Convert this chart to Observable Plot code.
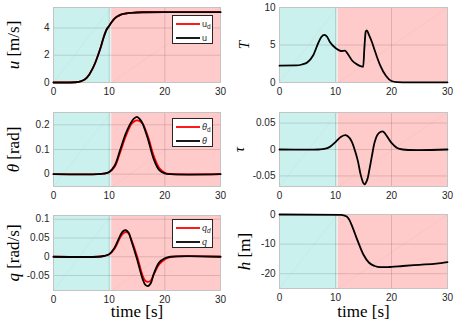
<!DOCTYPE html>
<html><head><meta charset="utf-8">
<script src="https://cdn.jsdelivr.net/npm/d3@7"></script>
<script src="https://cdn.jsdelivr.net/npm/@observablehq/plot@0.6"></script>
<style>
body{margin:0;background:#fff;}
#fig{position:relative;width:458px;height:328px;overflow:hidden;background:#fff;font-family:"Liberation Sans",Arial,sans-serif;}
.panel{position:absolute;}
.legend{position:absolute;background:#fff;border:1px solid #262626;box-sizing:border-box;}
</style></head><body><div id="fig"></div><script>
// ---------- data ----------
const phaseStart = [0, 10.45];
const phaseEnd = [10.35, 30];
const xTicks = [0, 10, 20, 30];

const uTime = [0,2,4,5,6,7,7.5,8,8.5,9,9.5,10,10.5,11,11.5,12,13,14,16,20,25,30];
const uVals = [0,0,0.02,0.1,0.35,1.0,1.45,2.0,2.6,3.3,3.85,4.15,4.45,4.7,4.85,4.96,5.06,5.11,5.15,5.16,5.16,5.16];
const udVals = [0,0,0.02,0.1,0.35,1.0,1.45,2.0,2.6,3.3,3.85,4.15,4.45,4.7,4.85,4.96,5.06,5.11,5.15,5.16,5.16,5.16];
const uTicks = [0, 2, 4];

const TTime = [0,3,4,5,6,7,7.5,8,8.5,9,10,10.5,11,11.7,12.2,13,14,14.6,14.95,15.15,15.4,15.6,16,16.5,17,17.5,18,19,20,21,22,30];
const TVals = [2.25,2.27,2.4,2.7,3.6,5.4,6.1,6.35,6.1,5.4,4.6,4.35,4.2,4.25,3.8,2.9,2.35,2.15,2.1,4.5,6.8,6.95,6.3,5.4,4.3,3.2,2.25,0.9,0.2,0.05,0.03,0.03];
const TTicks = [0, 5, 10];

const thTime = [0,8,9,10,11,12,13,14,14.5,15,15.5,16,17,18,19,20,21,30];
const thVals = [0,0,0.002,0.009,0.035,0.1,0.166,0.212,0.226,0.232,0.223,0.205,0.14,0.061,0.016,0.003,0,0];
const thdVals = [0,0,0.002,0.008,0.03,0.09,0.155,0.203,0.214,0.218,0.215,0.205,0.15,0.075,0.025,0.006,0.001,0];
const thTicks = [0, 0.1, 0.2];

const tauTime = [0,7,8,9,10,11,11.8,12.5,13,13.5,14,14.5,15,15.2,15.7,16,16.5,17,17.5,18,18.5,19,20,21,22,30];
const tauVals = [0,0,0.001,0.005,0.014,0.024,0.027,0.022,0.0125,-0.003,-0.022,-0.048,-0.064,-0.066,-0.056,-0.041,-0.0125,0.014,0.028,0.033,0.034,0.028,0.0125,0.003,0,0];
const tauTicks = [-0.05, 0, 0.05];

const qTime = [0,8,9,10,11,12,12.5,13,13.5,14,15,16,16.5,17,17.5,18,19,20,21,30];
const qVals = [0,0,0.002,0.007,0.025,0.057,0.068,0.071,0.064,0.042,-0.006,-0.059,-0.075,-0.078,-0.07,-0.046,-0.015,-0.004,0,0];
const qdVals = [0,0,0.002,0.006,0.022,0.052,0.062,0.066,0.062,0.045,0.002,-0.05,-0.064,-0.067,-0.063,-0.048,-0.02,-0.007,-0.001,0];
const qTicks = [-0.05, 0, 0.05, 0.1];

const hTime = [0,11,12,12.5,13,14,15,16,17,18,19,20,22,25,28,30];
const hVals = [0,-0.1,-0.7,-1.9,-4.1,-9.1,-13.6,-16.3,-17.4,-17.8,-17.8,-17.7,-17.4,-17.0,-16.6,-16.1];
const hTicks = [-20, -10, 0];

// ---------- drawing ----------
const fig = document.getElementById("fig");
const rows = (t, v) => t.map((x, i) => ({t: x, v: v[i]}));

function panel(c) {
  const phases = phaseStart.map((s, i) => ({s, e: phaseEnd[i]}));
  const ylabStr = c.ylabel.map(p => p[0]).join("");
  const xlabStr = c.xlabel ? c.xlabel.map(p => p[0]).join("") : null;
  const marks = [
    Plot.rect([phases[0]], {x1: "s", x2: "e", fill: "#cbf1ef"}),
    Plot.rect([phases[1]], {x1: "s", x2: "e", fill: "#ffcaca"}),
    Plot.link(phases, {x1: "s", x2: "e", y1: c.domain[0], y2: c.domain[1], stroke: "#000", strokeOpacity: 0.06, strokeWidth: 0.6}),
    Plot.gridX(xTicks, {stroke: "#000", strokeOpacity: 0.13}),
    Plot.gridY(c.ticks, {stroke: "#000", strokeOpacity: 0.13}),
    Plot.frame({stroke: "#c4c4c4"}),
    ...c.series.map(s => Plot.line(rows(s.t, s.v), {x: "t", y: "v", stroke: s.color, strokeWidth: 1.8, curve: s.curve || "catmull-rom"})),
    Plot.axisX(xTicks, {tickSize: 0, tickPadding: 5, label: null, tickFormat: d => String(d)}),
    Plot.axisY(c.ticks, {tickSize: 0, tickPadding: 4, label: null, tickFormat: d => String(d)}),
    Plot.text([ylabStr], {frameAnchor: "left", rotate: -90, dx: c.ldx, lineAnchor: "middle", textAnchor: "middle", fontSize: c.lsize, fontFamily: "Liberation Serif", fill: "#000"})
  ];
  if (c.xlabel) marks.push(Plot.text([xlabStr], {frameAnchor: "bottom", dy: c.xdy, lineAnchor: "middle", fontSize: 17, fontFamily: "Liberation Serif", fill: "#000"}));
  const p = Plot.plot({
    width: c.w, height: c.h,
    marginLeft: c.ml, marginRight: c.mr, marginTop: c.mt, marginBottom: c.mb,
    x: {domain: [0, 30]},
    y: {domain: c.domain},
    style: {fontFamily: "Liberation Sans, Arial, sans-serif", fontSize: "10px", color: "#262626", background: "transparent", overflow: "visible"},
    marks
  });
  const fix = (str, parts) => {
    p.querySelectorAll("text").forEach(el => {
      if (el.textContent !== str) return;
      const t = d3.select(el);
      t.text(null);
      parts.forEach(([s, it]) => t.append("tspan").attr("font-style", it ? "italic" : "normal").style("font-style", it ? "italic" : "normal").text(s));
    });
  };
  fix(ylabStr, c.ylabel);
  p.classList.add("panel");
  p.style.left = c.left + "px";
  p.style.top = c.top + "px";
  fig.appendChild(p);
}

function legend(left, top, labels) {
  const d = document.createElement("div");
  d.className = "legend";
  Object.assign(d.style, {left: left + "px", top: top + "px", width: "41px", height: "29px"});
  d.innerHTML = `<svg width="41" height="29" style="position:absolute;left:-1px;top:-1px;font-family:'Liberation Sans',Arial,sans-serif;font-size:9px">
    <line x1="4" x2="28" y1="9" y2="9" stroke="#ff0000" stroke-width="1.8"/>
    <line x1="4" x2="28" y1="23" y2="23" stroke="#000" stroke-width="1.8"/>
    <text x="30" y="12" fill="#262626">${labels[0]}</text>
    <text x="30" y="26" fill="#262626">${labels[1]}</text></svg>`;
  fig.appendChild(d);
}

const L = {left: 0, w: 229, ml: 53, mr: 9};
const R = {left: 229, w: 229, ml: 50, mr: 11};

panel({...L, top: 0, h: 105, mt: 7, mb: 23, domain: [0, 5.5], ticks: uTicks,
  series: [{t: uTime, v: udVals, color: "#ff0000", curve: "monotone-x"}, {t: uTime, v: uVals, color: "#000", curve: "monotone-x"}],
  ylabel: [["u", 1], [" [m/s]", 0]], lsize: 17, ldx: -40});
panel({...R, top: 0, h: 105, mt: 7, mb: 23, domain: [0, 10], ticks: TTicks,
  series: [{t: TTime, v: TVals, color: "#000", curve: "monotone-x"}],
  ylabel: [["T", 1]], lsize: 15, ldx: -35});
panel({...L, top: 105, h: 105, mt: 7, mb: 24, domain: [-0.05, 0.25], ticks: thTicks,
  series: [{t: thTime, v: thdVals, color: "#ff0000"}, {t: thTime, v: thVals, color: "#000"}],
  ylabel: [["θ", 1], [" [rad]", 0]], lsize: 17, ldx: -40});
panel({...R, top: 105, h: 105, mt: 7, mb: 24, domain: [-0.07, 0.07], ticks: tauTicks,
  series: [{t: tauTime, v: tauVals, color: "#000"}],
  ylabel: [["τ", 1]], lsize: 14, ldx: -40});
panel({...L, top: 210, h: 118, mt: 5, mb: 38, domain: [-0.09, 0.11], ticks: qTicks,
  series: [{t: qTime, v: qdVals, color: "#ff0000"}, {t: qTime, v: qVals, color: "#000"}],
  ylabel: [["q", 1], [" [rad/s]", 0]], lsize: 17, ldx: -40,
  xlabel: [["time [s]", 0]], xdy: 21});
panel({...R, top: 210, h: 118, mt: 4, mb: 40, domain: [-25, 0], ticks: hTicks,
  series: [{t: hTime, v: hVals, color: "#000", curve: "monotone-x"}],
  ylabel: [["h", 1], [" [m]", 0]], lsize: 17, ldx: -35,
  xlabel: [["time [s]", 0]], xdy: 23});

legend(172, 15, ["u<tspan font-size='6.5' dy='2'>d</tspan>", "u"]);
legend(172, 118, ["<tspan font-style='italic'>θ</tspan><tspan font-size='6.5' dy='2'>d</tspan>", "<tspan font-style='italic'>θ</tspan>"]);
legend(172, 219, ["<tspan font-style='italic' font-family='Liberation Serif' font-size='10'>q</tspan><tspan font-size='6.5' dy='2' font-style='italic'>d</tspan>", "<tspan font-style='italic' font-family='Liberation Serif' font-size='10'>q</tspan>"]);
</script></body></html>
